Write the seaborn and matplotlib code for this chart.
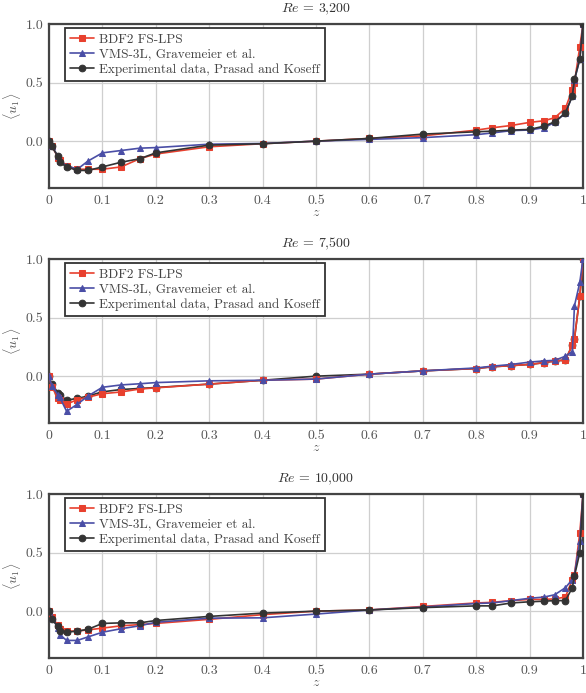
import numpy as np
import pandas as pd
import matplotlib
matplotlib.use('Agg')
import matplotlib.pyplot as plt
import seaborn as sns
from matplotlib.ticker import FuncFormatter

# sample positions along the centreline (shared by all series)
z = [0, 0.005, 0.017, 0.02, 0.033, 0.053, 0.073, 0.1, 0.135, 0.17, 0.2,
     0.3, 0.4, 0.5, 0.6, 0.7, 0.8, 0.83, 0.866, 0.9, 0.927, 0.947, 0.967,
     0.98, 0.984, 0.994, 1.0]

titles = ['$Re$ = 3,200', '$Re$ = 7,500', '$Re$ = 10,000']
labels = ['BDF2 FS-LPS', 'VMS-3L, Gravemeier et al.', 'Experimental data, Prasad and Koseff']

# Re = 3,200
bdf2_3200 = [0, -0.04, -0.14, -0.16, -0.21, -0.24, -0.24, -0.24, -0.22, -0.15, -0.11,
             -0.048, -0.022, 0.0, 0.023, 0.045, 0.094, 0.114, 0.134, 0.16, 0.174, 0.20, 0.28,
             0.44, 0.50, 0.806, 1.0]
vms_3200 = [0, -0.04, -0.13, -0.17, -0.21, -0.24, -0.17, -0.10, -0.08, -0.06, -0.055,
            -0.026, -0.02, 0.0, 0.015, 0.03, 0.055, 0.07, 0.09, 0.095, 0.115, 0.16, 0.24,
            0.385, 0.52, 0.70, 1.0]
exp_3200 = [0, -0.045, -0.13, -0.18, -0.22, -0.25, -0.25, -0.22, -0.18, -0.15, -0.10,
            -0.034, -0.022, 0.0, 0.023, 0.06, 0.08, 0.085, 0.094, 0.10, 0.128, 0.165, 0.24,
            0.385, 0.527, 0.70, 1.0]

# Re = 7,500
bdf2_7500 = [0, -0.09, -0.19, -0.2, -0.24, -0.2, -0.18, -0.15, -0.135, -0.11, -0.1,
             -0.068, -0.035, -0.025, 0.017, 0.045, 0.065, 0.08, 0.09, 0.10, 0.115, 0.13, 0.137,
             0.265, 0.32, 0.68, 1.0]
vms_7500 = [0, -0.08, -0.16, -0.18, -0.3, -0.24, -0.17, -0.095, -0.075, -0.065, -0.055,
            -0.04, -0.035, -0.025, 0.017, 0.045, 0.07, 0.085, 0.1, 0.12, 0.13, 0.135, 0.17,
            0.21, 0.6, 0.8, 1.0]
exp_7500 = [0, -0.07, -0.14, -0.16, -0.205, -0.19, -0.17, -0.134, -0.114, -0.105, -0.097,
            -0.068, -0.035, 0.0, 0.017, 0.045, 0.065, 0.08, 0.09, 0.10, 0.115, 0.13, 0.137,
            0.265, 0.32, 0.68, 1.0]

# Re = 10,000
bdf2_10000 = [0, -0.05, -0.12, -0.15, -0.17, -0.17, -0.16, -0.145, -0.125, -0.115, -0.105,
              -0.07, -0.03, 0.0, 0.01, 0.04, 0.07, 0.075, 0.09, 0.1, 0.1, 0.105, 0.12,
              0.27, 0.31, 0.667, 1.0]
vms_10000 = [0, -0.06, -0.14, -0.2, -0.25, -0.25, -0.22, -0.18, -0.15, -0.125, -0.095,
             -0.06, -0.057, -0.025, 0.01, 0.035, 0.065, 0.07, 0.09, 0.11, 0.12, 0.14, 0.20,
             0.27, 0.31, 0.6, 1.0]
exp_10000 = [0, -0.07, -0.13, -0.17, -0.18, -0.17, -0.155, -0.105, -0.10, -0.10, -0.08,
             -0.045, -0.017, 0.0, 0.01, 0.03, 0.045, 0.045, 0.07, 0.08, 0.085, 0.09, 0.09,
             0.2, 0.3, 0.5, 1.0]

panels = [(bdf2_3200, vms_3200, exp_3200),
          (bdf2_7500, vms_7500, exp_7500),
          (bdf2_10000, vms_10000, exp_10000)]

colors = ['#e8402e', '#4a4ea6', '#333333']
markers = ['s', '^', 'o']
msizes = [4.3, 3.8, 4.8]
# experimental curve sits below the simulations in the middle panel
zorders = [[3, 4, 5], [3, 4, 2], [3, 4, 5]]

sns.set_theme(style='whitegrid')
plt.rcParams['font.family'] = ['cmr10', 'DejaVu Serif']
plt.rcParams['mathtext.fontset'] = 'cm'
plt.rcParams['axes.formatter.use_mathtext'] = True

fig = plt.figure(figsize=(5.86, 6.93), dpi=100)
tops = [24, 259, 494]
for i, (series, top) in enumerate(zip(panels, tops)):
    ax = fig.add_axes([49 / 586, 1 - (top + 164) / 693, 534 / 586, 164 / 693])
    for j, vals in enumerate(series):
        df = pd.DataFrame({'z': z, 'u': vals})
        sns.lineplot(data=df, x='z', y='u', ax=ax, color=colors[j], marker=markers[j],
                     markersize=msizes[j], markeredgecolor=colors[j], linewidth=1.2,
                     estimator=None, sort=False, label=labels[j], zorder=zorders[i][j])
    ax.set_xlim(0, 1)
    ax.set_ylim(-0.4, 1.0)
    ax.set_xticks(np.arange(0, 1.01, 0.1))
    ax.set_yticks([0.0, 0.5, 1.0])
    ax.xaxis.set_major_formatter(FuncFormatter(lambda v, p: f'{v:g}'))
    ax.yaxis.set_major_formatter(FuncFormatter(lambda v, p: f'{v:.1f}'))
    ax.grid(True, color='#cfcfcf', linewidth=0.9)
    ax.set_facecolor('white')
    for s in ax.spines.values():
        s.set_color('#444444')
        s.set_linewidth(1.6)
    ax.tick_params(axis='x', labelsize=10, colors='#555555', labelcolor='#555555', length=0, pad=5)
    ax.tick_params(axis='y', labelsize=10, colors='#555555', labelcolor='#555555', length=0, pad=4)
    ax.set_xlabel('$z$', color='#555555', fontsize=10, labelpad=0)
    ax.set_ylabel(r'$\langle u_1 \rangle$', color='#555555', fontsize=10, labelpad=2)
    ax.set_title(titles[i], fontsize=10, color='#333333', pad=8)
    leg = ax.legend(loc='upper left', bbox_to_anchor=(0.03, 0.975), fontsize=9.5,
                    frameon=True, fancybox=False, framealpha=1, edgecolor='#333333',
                    handlelength=1.8, handletextpad=0.4, borderpad=0.4, labelspacing=0.2,
                    borderaxespad=0)
    leg.get_frame().set_linewidth(1.3)
    for t in leg.get_texts():
        t.set_color('#444444')

fig.savefig('out.png', dpi=100)
